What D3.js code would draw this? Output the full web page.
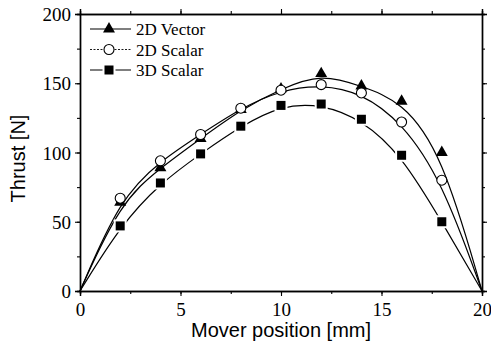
<!DOCTYPE html>
<html>
<head>
<meta charset="utf-8">
<script src="https://cdn.jsdelivr.net/npm/d3@7"></script>
<style>
  body { margin: 0; background: #fff; }
  svg { display: block; }
</style>
</head>
<body>
<svg id="chart"></svg>
<script>
// mover position [mm]
const positions = [0, 2, 4, 6, 8, 10, 12, 14, 16, 18, 20];
// thrust [N]
const vector2d = [0, 64, 89, 110, 131, 146, 157, 148, 137, 100, 0];
const scalar2d = [0, 67, 94, 113, 132, 145, 149, 143, 122, 80, 0];
const scalar3d = [0, 47, 78, 99, 119, 134, 135, 124, 98, 50, 0];
const xTicks = [0, 5, 10, 15, 20];
const yTicks = [0, 50, 100, 150, 200];
const seriesNames = ["2D Vector", "2D Scalar", "3D Scalar"];

const width = 491, height = 341;
const margin = { top: 14, right: 9, bottom: 50, left: 80 };

const svg = d3.select("#chart").attr("width", width).attr("height", height);

const x = d3.scaleLinear().domain([0, 20]).range([margin.left, width - margin.right]);
const y = d3.scaleLinear().domain([0, 200]).range([height - margin.bottom, margin.top]);

const serif = "'Liberation Serif', 'Times New Roman', serif";
const sans = "'Liberation Sans', Arial, sans-serif";

// minor ticks
const xMinor = d3.range(0, 20.01, 2.5);
const yMinor = d3.range(0, 200.01, 25);

function addAxis(axisFn, scale, ticks, minor, transform, labels) {
  const g = svg.append("g").attr("transform", transform);
  g.call(axisFn(scale).tickValues(minor).tickSize(3).tickFormat(""));
  const major = svg.append("g").attr("transform", transform)
    .call(axisFn(scale).tickValues(ticks).tickSize(5).tickPadding(4)
      .tickFormat(labels ? d3.format("d") : ""));
  [g, major].forEach(s => {
    s.select(".domain").attr("stroke", "#000").attr("stroke-width", 1.4);
    s.selectAll(".tick line").attr("stroke", "#000").attr("stroke-width", 1.1);
  });
  major.selectAll(".tick text")
    .attr("font-family", serif).attr("font-size", 19).attr("fill", "#000");
  return major;
}

addAxis(d3.axisBottom, x, xTicks, xMinor, `translate(0,${y(0)})`, true)
  .selectAll(".tick text").attr("dy", "0.85em");
addAxis(d3.axisLeft, y, yTicks, yMinor, `translate(${x(0)},0)`, true)
  .selectAll(".tick text").attr("dy", "0.35em");
addAxis(d3.axisTop, x, xTicks, xMinor, `translate(0,${y(200)})`, false);
addAxis(d3.axisRight, y, yTicks, yMinor, `translate(${x(20)},0)`, false);

// axis titles
svg.append("text")
  .attr("x", (x(0) + x(20)) / 2)
  .attr("y", 337)
  .attr("text-anchor", "middle")
  .attr("font-family", sans).attr("font-size", 20)
  .text("Mover position [mm]");

svg.append("text")
  .attr("transform", `translate(25,${(y(0) + y(200)) / 2 + 6}) rotate(-90)`)
  .attr("text-anchor", "middle")
  .attr("font-family", sans).attr("font-size", 20)
  .text("Thrust [N]");

const line = d3.line()
  .x(d => x(d[0]))
  .y(d => y(d[1]))
  .curve(d3.curveBasis);

const series = [
  { name: seriesNames[0], values: vector2d, marker: "triangle", dash: null },
  { name: seriesNames[1], values: scalar2d, marker: "circle", dash: null },
  { name: seriesNames[2], values: scalar3d, marker: "square", dash: null }
];

const plot = svg.append("g");

series.forEach(s => {
  plot.append("path")
    .datum(positions.map((p, i) => [p, s.values[i]]))
    .attr("fill", "none")
    .attr("stroke", "#000")
    .attr("stroke-width", 1.2)
    .attr("d", line);
});

function drawMarker(g, type, cx, cy) {
  if (type === "triangle") {
    g.append("path")
      .attr("d", d3.symbol(d3.symbolTriangle, 62)())
      .attr("transform", `translate(${cx},${cy})`)
      .attr("fill", "#000");
  } else if (type === "circle") {
    g.append("circle")
      .attr("cx", cx).attr("cy", cy).attr("r", 5)
      .attr("fill", "#fff").attr("stroke", "#000").attr("stroke-width", 1.1);
  } else {
    g.append("rect")
      .attr("x", cx - 4.5).attr("y", cy - 4.5)
      .attr("width", 9).attr("height", 9)
      .attr("fill", "#000")
      .attr("stroke", "#fff").attr("stroke-width", 4)
      .attr("paint-order", "stroke");
  }
}

// markers (skip end points at 0 and 20)
series.forEach(s => {
  const g = plot.append("g");
  positions.forEach((p, i) => {
    if (i === 0 || i === positions.length - 1) return;
    drawMarker(g, s.marker, x(p), y(s.values[i]));
  });
});

// legend
const legend = svg.append("g");
series.forEach((s, i) => {
  const cy = 29 + i * 20.5;
  legend.append("line")
    .attr("x1", 90).attr("x2", 131).attr("y1", cy).attr("y2", cy)
    .attr("stroke", "#000")
    .attr("stroke-width", i === 1 ? 0.9 : 1.2)
    .attr("stroke-dasharray", i === 1 ? "2,1.5" : null);
  drawMarker(legend, s.marker, 109, cy);
  legend.append("text")
    .attr("x", 136).attr("y", cy + 6)
    .attr("font-family", serif).attr("font-size", 17)
    .text(s.name);
});
</script>
</body>
</html>
